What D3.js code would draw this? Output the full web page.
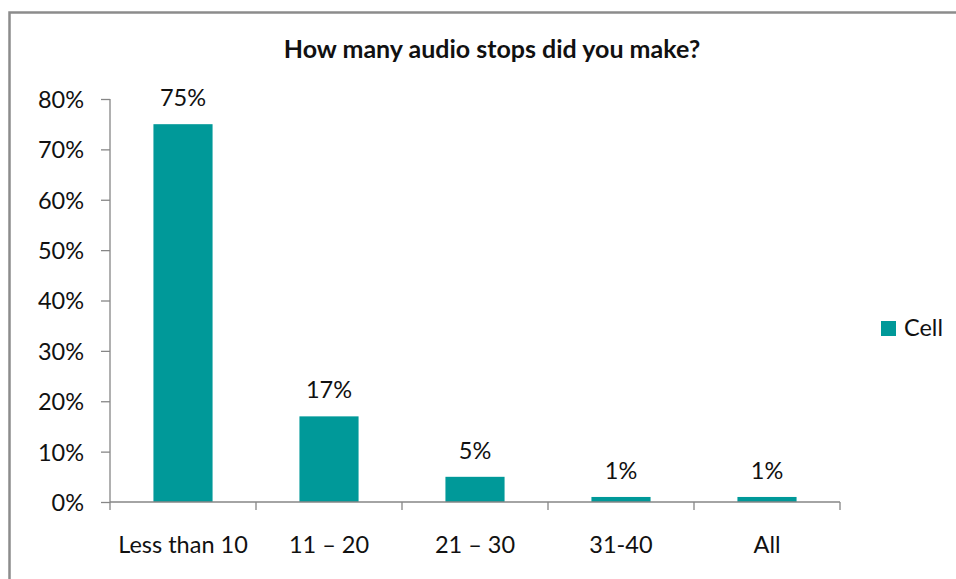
<!DOCTYPE html>
<html>
<head>
<meta charset="utf-8">
<script src="https://cdn.jsdelivr.net/npm/d3@7"></script>
<style>
  html, body { margin: 0; padding: 0; background: #fff; }
  svg { display: block; }
  text { font-family: Lato, "Open Sans", sans-serif; fill: #111; }
</style>
</head>
<body>
<svg id="chart" width="956" height="579"></svg>
<script>
// Survey answers: share of respondents per number of audio stops
const categories = ["Less than 10", "11 \u2013 20", "21 \u2013 30", "31-40", "All"];
const cellValues = [75, 17, 5, 1, 1];
const yTicks = [0, 10, 20, 30, 40, 50, 60, 70, 80];
const seriesName = "Cell";
const chartTitle = "How many audio stops did you make?";

const svg = d3.select("#chart");
const barColor = "#009999";
const axisColor = "#868686";
const labelSize = 23.5;

// outer frame
svg.append("rect")
  .attr("x", 9.5).attr("y", 12.5)
  .attr("width", 960).attr("height", 600)
  .attr("fill", "none")
  .attr("stroke", "#8c8c8c")
  .attr("stroke-width", 2.5);

const plot = { left: 110, right: 840, top: 99, bottom: 502 };

const x = d3.scaleBand()
  .domain(categories)
  .range([plot.left, plot.right])
  .paddingInner(0.595)
  .paddingOuter(0.2975);

const y = d3.scaleLinear()
  .domain([0, 80])
  .range([plot.bottom, plot.top]);

// title
svg.append("text")
  .attr("x", 492).attr("y", 58)
  .attr("text-anchor", "middle")
  .attr("font-weight", "bold")
  .attr("font-size", 25)
  .text(chartTitle);

// y axis
const yAxis = svg.append("g")
  .attr("transform", `translate(${plot.left},0)`)
  .call(d3.axisLeft(y).tickValues(yTicks).tickSize(9).tickPadding(17)
    .tickFormat(d => d + "%"));
yAxis.selectAll("path, line").attr("stroke", axisColor).attr("stroke-width", 1.3);
yAxis.selectAll("text").attr("font-size", labelSize).attr("font-family", "Lato, sans-serif")
  .attr("fill", "#111").attr("dy", "0.36em");
yAxis.select(".domain").attr("d", `M0,${plot.top}V${plot.bottom}`);

// bars
svg.append("g").selectAll("rect")
  .data(cellValues)
  .join("rect")
  .attr("x", (d, i) => x(categories[i]))
  .attr("y", d => y(d))
  .attr("width", x.bandwidth())
  .attr("height", d => plot.bottom - y(d))
  .attr("fill", barColor);

// value labels
svg.append("g").selectAll("text")
  .data(cellValues)
  .join("text")
  .attr("x", (d, i) => x(categories[i]) + x.bandwidth() / 2)
  .attr("y", d => y(d) - 18)
  .attr("text-anchor", "middle")
  .attr("font-size", labelSize)
  .text(d => d + "%");

// x axis: baseline with ticks at category boundaries
const xg = svg.append("g");
xg.append("line")
  .attr("x1", plot.left).attr("x2", plot.right)
  .attr("y1", plot.bottom).attr("y2", plot.bottom)
  .attr("stroke", axisColor).attr("stroke-width", 1.3);
const step = x.step();
const bounds = d3.range(categories.length + 1).map(i => plot.left + i * step);
xg.selectAll("line.tick")
  .data(bounds)
  .join("line")
  .attr("class", "tick")
  .attr("x1", d => d).attr("x2", d => d)
  .attr("y1", plot.bottom).attr("y2", plot.bottom + 8)
  .attr("stroke", axisColor).attr("stroke-width", 1.3);
xg.selectAll("text")
  .data(categories)
  .join("text")
  .attr("x", d => x(d) + x.bandwidth() / 2)
  .attr("y", 553)
  .attr("text-anchor", "middle")
  .attr("font-size", labelSize)
  .text(d => d);

// legend
const legend = svg.append("g").attr("transform", "translate(881,321)");
legend.append("rect")
  .attr("width", 15).attr("height", 15)
  .attr("fill", barColor);
legend.append("text")
  .attr("x", 23).attr("y", 15)
  .attr("font-size", labelSize)
  .text(seriesName);
</script>
</body>
</html>
